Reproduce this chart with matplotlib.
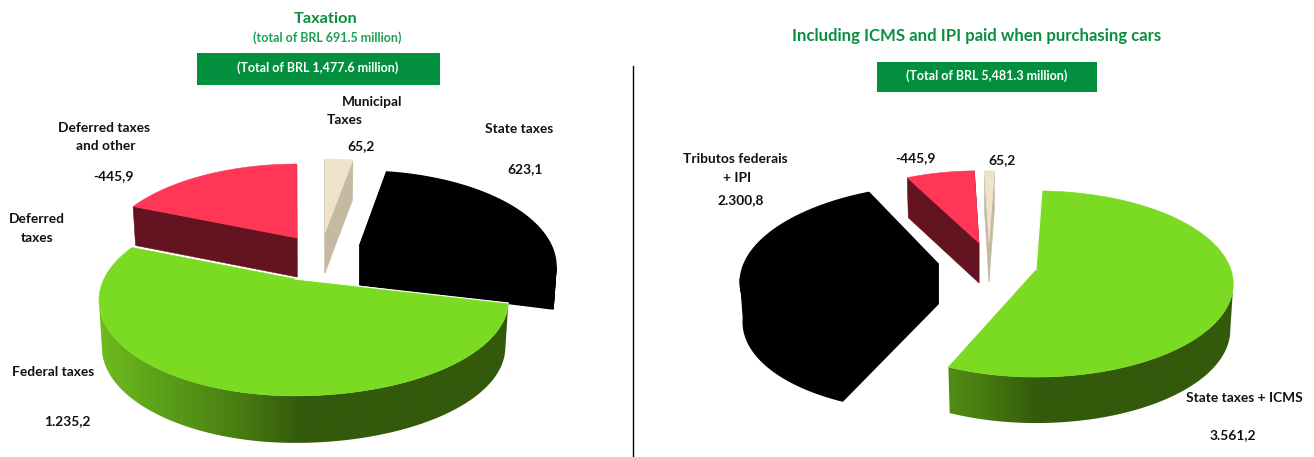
import numpy as np
import matplotlib
matplotlib.use("Agg")
import matplotlib.pyplot as plt
from matplotlib.colors import LinearSegmentedColormap
from matplotlib.patches import Polygon, Rectangle

plt.rcParams['font.family'] = ['Lato', 'DejaVu Sans']

# tax breakdown, BRL million (clockwise order on the pie)
left_values = [1235.2, 445.9, 65.2, 623.1]
right_values = [3561.2, 2300.8, 445.9, 65.2]

GREEN_TOP = '#7bdb22'
RED_TOP = '#ff3655'
RED_SIDE = '#641320'
CREAM_TOP = '#eee3ca'
CREAM_SIDE = '#c4b9a1'
BLACK = '#000000'
TITLE_GREEN = '#0a8f3f'
BOX_GREEN = '#03903e'

wall_cmap = LinearSegmentedColormap.from_list(
    'wall', ['#70bd20', '#5a9f18', '#4a8012', '#33590b', '#33590b'])


def fmt(v):
    return f"{v:,.1f}".replace(',', 'X').replace('.', ',').replace('X', '.')


def project(apex, th, ax_l, ax_r, b, k, shear=0):
    # flat pie seen from above with some perspective
    u, v = np.cos(th), np.sin(th)
    w = 1 + k * v
    x = apex[0] + np.where(u < 0, ax_l, ax_r) * u / w + shear * v
    y = apex[1] - b * v / w
    return x, y


def draw_slice(ax, apex, start, sweep, top, side, depth, radii, k, z, gradient=None):
    th = np.radians(np.linspace(start, start - sweep, 200))
    x, y = project(apex, th, *radii[:3], k, *radii[3:])
    edge = 1.0 if top == BLACK else 0.4

    # outer wall, from one silhouette point of the ellipse to the other
    keep = np.sin(th) <= -k
    if keep.any():
        xt, yt = x[keep], y[keep]
        xb = apex[0] + (xt - apex[0]) * 0.985
        yb = yt + depth
        wall = np.column_stack([np.r_[xt, xb[::-1]], np.r_[yt, yb[::-1]]])
        if gradient is None:
            ax.add_patch(Polygon(wall, fc=side, ec=side, lw=edge, zorder=z))
        else:
            # colour runs left to right and stays flat outside the given range
            px = np.arange(0, 1315)
            ramp = np.clip((px - gradient[0]) / (gradient[1] - gradient[0]), 0, 1)
            im = ax.imshow(ramp.reshape(1, -1), cmap=wall_cmap, vmin=0, vmax=1,
                           extent=[0, 1314, 457, 0], aspect='auto', zorder=z)
            clip = Polygon(wall, transform=ax.transData, fc='none', ec='none')
            ax.add_patch(clip)
            im.set_clip_path(clip)

    # the two cut faces
    if gradient is None:
        for i in (0, -1):
            face = [apex, (x[i], y[i]), (x[i] * 0.985 + apex[0] * 0.015, y[i] + depth),
                    (apex[0], apex[1] + depth)]
            ax.add_patch(Polygon(face, fc=side, ec=side, lw=edge, zorder=z))

    pts = np.vstack([[apex], np.column_stack([x, y])])
    ax.add_patch(Polygon(pts, fc=top, ec=top, lw=edge, zorder=z + 0.5))
    if gradient is not None:
        # thin white seam along the first straight cut
        ax.plot([x[0], apex[0]], [y[0], apex[1]], color='white', lw=0.8, zorder=z + 0.6)


def draw_pie(ax, values, start, colors, apexes, radii, depths, k, order, gradient):
    total = sum(abs(v) for v in values)
    sweeps = [abs(v) / total * 360 for v in values]
    starts = start - np.r_[0, np.cumsum(sweeps)[:-1]]
    for z, i in enumerate(order):
        top, side = colors[i]
        grad = gradient if top == GREEN_TOP else None
        draw_slice(ax, apexes[i], starts[i], sweeps[i], top, side, depths[i],
                   radii[i], k, 2 + z, gradient=grad)


fig = plt.figure(figsize=(13.14, 4.57), dpi=100)
ax = fig.add_axes([0, 0, 1, 1])

# left pie: green, red, cream, black
draw_pie(ax, left_values, -14.5,
         [(GREEN_TOP, None), (RED_TOP, RED_SIDE), (CREAM_TOP, CREAM_SIDE), (BLACK, BLACK)],
         [(295, 279), (297, 238), (325, 233), (360, 245)],
         [(191, 208, 90.6), (192, 200, 90.6), (200, 200, 90.6), (191, 191, 90.6)],
         [47, 39, 40, 40], 0.225, [1, 2, 3, 0], (95, 370))

# right pie: green, black, red, cream
draw_pie(ax, right_values, 88,
         [(GREEN_TOP, None), (BLACK, BLACK), (RED_TOP, RED_SIDE), (CREAM_TOP, CREAM_SIDE)],
         [(1036, 270), (938, 264), (979, 243), (989, 243)],
         [(192, 195, 91), (194, 194, 91, 9), (180, 180, 83), (180, 180, 83)],
         [46, 40, 40, 39], 0.15, [1, 2, 3, 0], (845, 1105))

ax.set_xlim(0, 1314)
ax.set_ylim(457, 0)
ax.axis('off')

ax.plot([632.5, 632.5], [66, 457], color='black', lw=1, zorder=1)

# titles and total boxes
ax.text(326, 19, 'Taxation', color=TITLE_GREEN, fontsize=11.8, fontweight='bold',
        ha='center', va='center')
ax.text(327, 38, '(total of BRL 691.5 million)', color='#1f9e55', fontsize=9,
        fontweight='bold', ha='center', va='center')
ax.add_patch(Rectangle((197, 53), 243, 32, fc=BOX_GREEN, ec='none', zorder=1))
ax.text(318, 68, '(Total of BRL 1,477.6 million)', color='white', fontsize=9,
        fontweight='bold', ha='center', va='center', zorder=9)

ax.text(977, 36, 'Including ICMS and IPI paid when purchasing cars', color=TITLE_GREEN,
        fontsize=12.1, fontweight='bold', ha='center', va='center')
ax.add_patch(Rectangle((877, 62), 220, 30, fc=BOX_GREEN, ec='none', zorder=1))
ax.text(987, 76, '(Total of BRL 5,481.3 million)', color='white', fontsize=9,
        fontweight='bold', ha='center', va='center', zorder=9)

# slice labels
labels = [
    ('Municipal', 372, 102), ('Taxes', 345, 120), (fmt(left_values[2]), 361, 146),
    ('State taxes', 519, 129), (fmt(left_values[3]), 525, 169),
    ('Deferred taxes', 104, 128), ('and other', 106, 146), (fmt(-left_values[1]), 113, 176),
    ('Deferred', 37, 219), ('taxes', 37, 238),
    ('Federal taxes', 53, 372), (fmt(left_values[0]), 67, 421),
    ('Tributos federais', 735, 159), ('+ IPI', 737, 178), (fmt(right_values[1]), 741, 200),
    (fmt(-right_values[2]), 916, 158), (fmt(right_values[3]), 1002, 160),
    ('State taxes + ICMS', 1244, 398), (fmt(right_values[0]), 1233, 435),
]
for txt, x, y in labels:
    ax.text(x, y, txt, color='#111111', fontsize=9.9, fontweight='bold',
            ha='center', va='center', zorder=10)

fig.savefig('out.png', dpi=100)
